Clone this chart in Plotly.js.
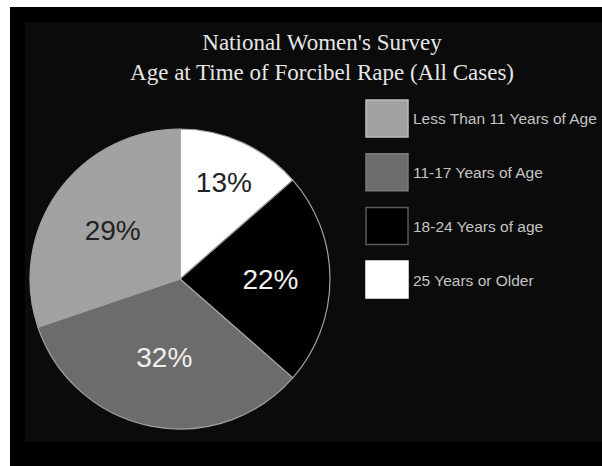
<!DOCTYPE html>
<html>
<head>
<meta charset="utf-8">
<script src="https://cdn.plot.ly/plotly-3.0.1.min.js"></script>
<style>html,body{margin:0;padding:0;background:#fff;}#chart{width:602px;height:466px;}</style>
</head>
<body>
<div id="chart"></div>
<script>
// Data (legend order)
var categories = ["Less Than 11 Years of Age", "11-17 Years of Age", "18-24 Years of age", "25 Years or Older"];
var percents = [29, 32, 22, 13];
var sliceColors = ["#a2a2a2", "#6c6c6c", "#000000", "#ffffff"];
var labelColors = ["#222222", "#f0f0f0", "#f0f0f0", "#222222"];
var titleLines = ["National Women's Survey", "Age at Time of Forcibel Rape (All Cases)"];

var W = 602, H = 466;
function px(x){ return x / W; }
function py(y){ return 1 - y / H; }

var shapes = [
  {type:"rect", xref:"paper", yref:"paper", x0:px(10), x1:1, y0:0, y1:py(7), fillcolor:"#000", line:{width:0}, layer:"below"},
  {type:"rect", xref:"paper", yref:"paper", x0:px(25), x1:1, y0:py(442), y1:py(22), fillcolor:"#0b0b0b", line:{width:0}, layer:"below"}
];
var annotations = [];
var boxBorders = ["#bdbdbd", "#7a7a7a", "#5a5a5a", "#ffffff"];
categories.forEach(function(c, i){
  var top = 100 + i * 53.7;
  shapes.push({type:"rect", xref:"paper", yref:"paper",
    x0:px(366), x1:px(408), y0:py(top + 37), y1:py(top),
    fillcolor:sliceColors[i], line:{color:boxBorders[i], width:1.5}});
  annotations.push({xref:"paper", yref:"paper", x:px(411), y:py(top + 19), xanchor:"left", yanchor:"middle",
    text:c, showarrow:false, font:{family:"Liberation Sans, Arial, sans-serif", size:15.5, color:"#c4c4c4"}});
});

// pie drawn clockwise from 12 o'clock: youngest group last
function rev(a){ return a.slice().reverse(); }
var cx = 180, cy = 279, r = 150;
var trace = {
  type:"pie",
  labels:rev(categories),
  values:rev(percents),
  sort:false,
  direction:"clockwise",
  rotation:0,
  marker:{colors:rev(sliceColors), line:{color:"#a0a0a0", width:1.2}},
  texttemplate:"%{value}%",
  textposition:"inside",
  insidetextorientation:"horizontal",
  textfont:{family:"Liberation Sans, Arial, sans-serif", size:28, color:rev(labelColors)},
  hoverinfo:"none",
  showlegend:false,
  domain:{x:[px(cx - r), px(cx + r)], y:[py(cy + r), py(cy - r)]}
};

var layout = {
  width:W, height:H,
  margin:{l:0, r:0, t:0, b:0},
  paper_bgcolor:"#ffffff",
  plot_bgcolor:"rgba(0,0,0,0)",
  showlegend:false,
  title:{text:titleLines.join("<br>"), x:0.535, xanchor:"center", y:py(50), yanchor:"top", yref:"container",
    font:{family:"Liberation Serif, DejaVu Serif, serif", size:23, color:"#e6e6e6"}},
  shapes:shapes,
  annotations:annotations
};

Plotly.newPlot("chart", [trace], layout, {displayModeBar:false, staticPlot:true});
</script>
</body>
</html>
